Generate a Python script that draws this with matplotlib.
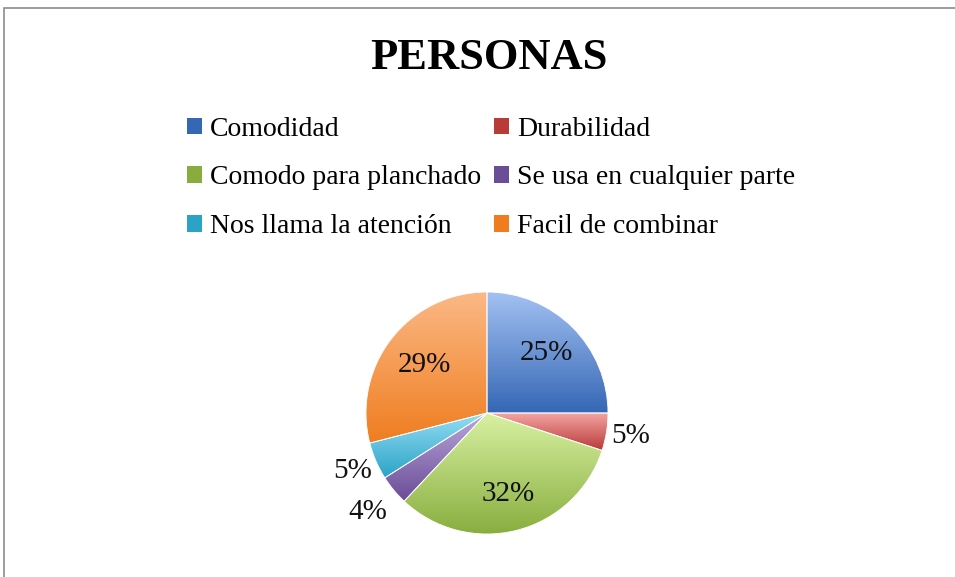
import numpy as np
import matplotlib
matplotlib.use("Agg")
import matplotlib.pyplot as plt
from matplotlib.patches import Patch, Rectangle
from matplotlib.colors import LinearSegmentedColormap

# Datos del gráfico
categorias = ["Comodidad", "Durabilidad", "Comodo para planchado",
              "Se usa en cualquier parte", "Nos llama la atención", "Facil de combinar"]
porcentajes = [25, 5, 32, 4, 5, 29]
etiquetas = ["25%", "5%", "32%", "4%", "5%", "29%"]

# Colores (claro arriba, oscuro abajo)
claros = ["#a3c1f2", "#f5a7a5", "#d8f1a2", "#bba9da", "#95ddf5", "#fbb986"]
oscuros = ["#3567b5", "#b83b38", "#88ad3e", "#6a4c97", "#2aa3c6", "#ef7d20"]
# distancia de cada etiqueta al centro (en radios)
dist_etiqueta = [0.7, 1.2, 0.69, 1.28, 1.21, 0.65]

plt.rcParams['font.family'] = ['Liberation Serif', 'DejaVu Serif']

W, H = 955, 577
fig = plt.figure(figsize=(W / 100, H / 100), dpi=100)

# marco gris del gráfico
fig.patches.append(Rectangle((4 / W, -0.1), 1.2, (H - 8) / H + 0.1, transform=fig.transFigure,
                             fill=False, edgecolor="#8c8c8c", linewidth=1.2))

fig.text(489 / W, 1 - 58 / H, "PERSONAS", ha="center", va="center",
         fontsize=32, fontweight="bold")

# ejes de la torta: centro (487, 413), radio 121 px
cx, cy, r = 487, 413, 121
ax = fig.add_axes([(cx - r) / W, (H - cy - r) / H, 2 * r / W, 2 * r / H])
ax.set_xlim(-1, 1)
ax.set_ylim(-1, 1)
ax.axis("off")

wedges, _ = ax.pie(porcentajes, startangle=90, counterclock=False, radius=1,
                   colors=oscuros, wedgeprops=dict(linewidth=0))

for i, w in enumerate(wedges):
    verts = w.get_path().vertices
    x0, x1 = verts[:, 0].min(), verts[:, 0].max()
    y0, y1 = verts[:, 1].min(), verts[:, 1].max()
    cmap = LinearSegmentedColormap.from_list("g%d" % i, [oscuros[i], claros[i]])
    grad = np.linspace(0, 1, 256).reshape(-1, 1)
    im = ax.imshow(grad, cmap=cmap, extent=[x0, x1, y0, y1], origin="lower",
                   aspect="auto", zorder=2)
    im.set_clip_path(w)
    w.set_facecolor("none")
    w.set_edgecolor("white")
    w.set_linewidth(0.6)
    w.set_zorder(3)

    ang = np.deg2rad((w.theta1 + w.theta2) / 2)
    d = dist_etiqueta[i]
    ax.text(d * np.cos(ang), d * np.sin(ang), etiquetas[i], ha="center", va="center",
            fontsize=21, color="#111111", zorder=4, clip_on=False)

ax.set_xlim(-1, 1)
ax.set_ylim(-1, 1)

# leyenda por filas: matplotlib llena por columnas, así que se reordena
orden = [0, 2, 4, 1, 3, 5]
handles = [Patch(facecolor=oscuros[i], edgecolor="none") for i in orden]
fig.legend(handles, [categorias[i] for i in orden], loc="center",
           bbox_to_anchor=(491 / W, 1 - 178 / H),
           ncol=2, frameon=False, fontsize=20, handlelength=0.55, handleheight=0.55,
           handletextpad=0.3, columnspacing=0.45, labelspacing=0.85)

fig.savefig("out.png", dpi=100)
